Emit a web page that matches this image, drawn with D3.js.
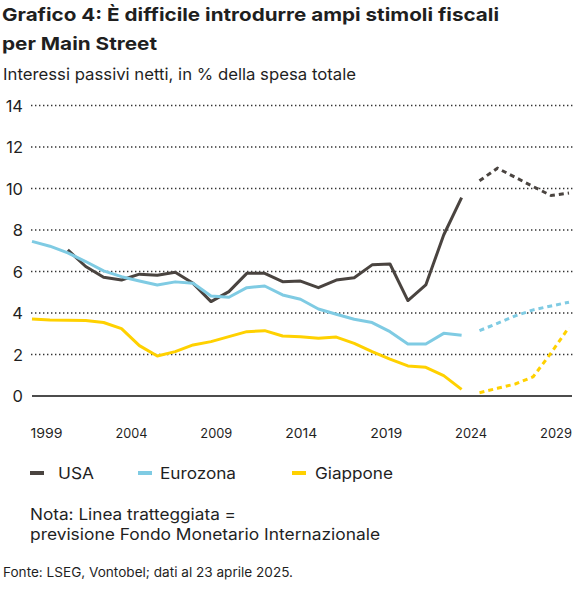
<!DOCTYPE html>
<html lang="it">
<head>
    <meta charset="UTF-8">
    <title>Grafico 4</title>
    <script src="https://d3js.org/d3.v7.min.js"></script>
    <style>
        body { margin: 0; background: #fff; font-family: Inter, "Liberation Sans", Arial, sans-serif; }
        svg text { fill: #1f1f1f; }
    </style>
</head>
<body>
    <div id="container"></div>

    <script>
        // data (historical up to 2023, IMF forecast 2024-2029)
        const years = d3.range(1999, 2024);
        const forecastYears = d3.range(2024, 2030);

        const usa = [null, null, 7.04, 6.24, 5.72, 5.59, 5.87, 5.82, 5.96, 5.43, 4.55, 5.03, 5.91,
                     5.91, 5.51, 5.54, 5.22, 5.59, 5.70, 6.32, 6.36, 4.60, 5.35, 7.76, 9.56];
        const eurozona = [7.45, 7.22, 6.90, 6.48, 6.03, 5.75, 5.54, 5.35, 5.50, 5.43, 4.82, 4.76, 5.22,
                          5.30, 4.87, 4.66, 4.19, 3.94, 3.70, 3.54, 3.10, 2.51, 2.51, 3.02, 2.93];
        const giappone = [3.71, 3.66, 3.65, 3.64, 3.54, 3.25, 2.43, 1.93, 2.14, 2.46, 2.62, 2.86, 3.10,
                          3.15, 2.89, 2.86, 2.78, 2.84, 2.54, 2.14, 1.78, 1.45, 1.38, 0.98, 0.32];

        const usaForecast = [10.37, 10.98, 10.54, 10.09, 9.66, 9.78];
        const eurozonaForecast = [3.15, 3.50, 3.86, 4.15, 4.34, 4.52];
        const giapponeForecast = [0.16, 0.37, 0.58, 0.93, 2.08, 3.31];

        const yTicks = [0, 2, 4, 6, 8, 10, 12, 14];
        const xTickLabels = [1999, 2004, 2009, 2014, 2019, 2024, 2029];

        const seriesNames = ["USA", "Eurozona", "Giappone"];
        const colors = ["#4a4440", "#7fcbe3", "#ffd100"];

        const width = 587, height = 590;

        const svg = d3.select("#container").append("svg")
            .attr("width", width)
            .attr("height", height);

        // the original font is wider than anything installed, so stretch text to its width
        function addText(str, tx, ty, size, len, bold) {
            return svg.append("text")
                .attr("x", tx).attr("y", ty)
                .attr("textLength", len)
                .attr("lengthAdjust", "spacingAndGlyphs")
                .style("font-size", size + "px")
                .style("font-weight", bold ? "bold" : "normal")
                .text(str);
        }

        // scales
        const x = d3.scaleLinear().domain([1999, 2029]).range([32, 569]);
        const xLabel = d3.scaleLinear().domain([1999, 2029]).range([46.5, 556]);
        const y = d3.scaleLinear().domain([0, 14]).range([396, 105.5]);

        // title + subtitle
        addText("Grafico 4: È difficile introdurre ampi stimoli fiscali", 2, 21, 18, 497, true);
        addText("per Main Street", 2, 50, 18, 155, true);
        addText("Interessi passivi netti, in % della spesa totale", 3, 80, 16.5, 353, false);

        // grid lines
        svg.append("g").selectAll("line")
            .data(yTicks.filter(d => d > 0))
            .enter().append("line")
            .attr("x1", 31).attr("x2", 573)
            .attr("y1", d => y(d)).attr("y2", d => y(d))
            .attr("stroke", "#333")
            .attr("stroke-width", 1.4)
            .attr("stroke-dasharray", "1.4,2.6");

        // y labels
        svg.append("g").selectAll("text")
            .data(yTicks)
            .enter().append("text")
            .attr("x", 23).attr("y", d => y(d) + 6)
            .attr("text-anchor", "end")
            .style("font-size", "16.5px")
            .text(d => d);

        // x labels
        svg.append("g").selectAll("text")
            .data(xTickLabels)
            .enter().append("text")
            .attr("x", d => xLabel(d)).attr("y", 438)
            .attr("text-anchor", "middle")
            .attr("textLength", 32)
            .attr("lengthAdjust", "spacingAndGlyphs")
            .style("font-size", "13px")
            .text(d => d);

        // lines
        const line = d3.line()
            .defined(d => d.v != null)
            .x(d => x(d.year))
            .y(d => y(d.v));

        const actual = [usa, eurozona, giappone];
        const forecast = [usaForecast, eurozonaForecast, giapponeForecast];

        actual.forEach((vals, i) => {
            svg.append("path")
                .datum(vals.map((v, j) => ({ year: years[j], v: v })))
                .attr("fill", "none")
                .attr("stroke", colors[i])
                .attr("stroke-width", 3)
                .attr("stroke-linejoin", "round")
                .attr("d", line);
        });

        forecast.forEach((vals, i) => {
            svg.append("path")
                .datum(vals.map((v, j) => ({ year: forecastYears[j], v: v })))
                .attr("fill", "none")
                .attr("stroke", colors[i])
                .attr("stroke-width", 3)
                .attr("stroke-dasharray", "5,4")
                .attr("d", line);
        });

        // zero line
        svg.append("line")
            .attr("x1", 32).attr("x2", 572)
            .attr("y1", y(0)).attr("y2", y(0))
            .attr("stroke", "#111")
            .attr("stroke-width", 1.6);

        // legend
        const legendX = [30, 138, 292];
        const legendTextX = [58, 160, 315];
        const legendTextW = [36, 76, 78];
        const legend = svg.append("g").selectAll("g")
            .data(seriesNames)
            .enter().append("g");
        legend.append("rect")
            .attr("x", (d, i) => legendX[i]).attr("y", 471)
            .attr("width", 14).attr("height", 4)
            .attr("fill", (d, i) => colors[i]);
        legend.append("text")
            .attr("x", (d, i) => legendTextX[i]).attr("y", 479)
            .attr("textLength", (d, i) => legendTextW[i])
            .attr("lengthAdjust", "spacingAndGlyphs")
            .style("font-size", "16px")
            .text(d => d);

        // note
        addText("Nota: Linea tratteggiata =", 30, 520, 16, 206, false);
        addText("previsione Fondo Monetario Internazionale", 30, 540, 16, 350, false);

        // source
        addText("Fonte: LSEG, Vontobel; dati al 23 aprile 2025.", 3, 577, 13, 290, false);
    </script>
</body>
</html>
